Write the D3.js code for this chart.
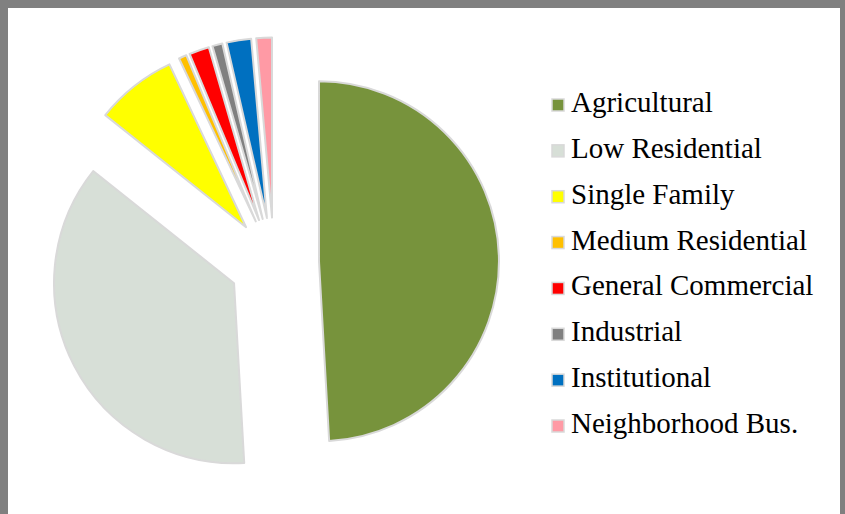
<!DOCTYPE html>
<html><head><meta charset="utf-8">
<script src="https://cdn.jsdelivr.net/npm/d3@7"></script>
<style>html,body{margin:0;padding:0;background:#808080;}svg{display:block;}</style>
</head><body>
<svg id="chart" width="845" height="514"></svg>
<script>
const categories = ["Agricultural","Low Residential","Single Family","Medium Residential","General Commercial","Industrial","Institutional","Neighborhood Bus."];
const values = [49.1, 36.6, 7.3, 0.7, 1.8, 0.9, 2.2, 1.4];
const colors = ["#77933C","#D7DFD7","#FFFF00","#FFC000","#FF0000","#808080","#0070C0","#FF9AA5"];

const svg = d3.select("#chart");
svg.append("rect").attr("x",0).attr("y",0).attr("width",845).attr("height",514).attr("fill","#808080");
svg.append("rect").attr("x",8).attr("y",8).attr("width",832).attr("height",506).attr("fill","#ffffff");

const cx = 274, cy = 262.5, r = 180, explode = 45;
const data = categories.map((c,i)=>({name:c, value:values[i], color:colors[i]}));
const pie = d3.pie().value(d=>d.value).sort(null).startAngle(0).endAngle(2*Math.PI);
const arc = d3.arc().innerRadius(0).outerRadius(r);
const g = svg.append("g").attr("transform",`translate(${cx},${cy})`);
g.selectAll("path").data(pie(data)).join("path")
  .attr("d", arc)
  .attr("transform", d=>{
    const a = (d.startAngle+d.endAngle)/2;
    return `translate(${explode*Math.sin(a)},${-explode*Math.cos(a)})`;
  })
  .attr("fill", d=>d.data.color)
  .attr("stroke","#d9d9d9")
  .attr("stroke-width",2)
  .attr("stroke-linejoin","round");

const y = d3.scalePoint().domain(categories).range([112, 433]);
const leg = svg.append("g");
const rows = leg.selectAll("g").data(data).join("g")
  .attr("transform", d=>`translate(0,${y(d.name)})`);
rows.append("rect").attr("x",552).attr("y",-13).attr("width",12).attr("height",12)
  .attr("fill",d=>d.color).attr("stroke","#d9d9d9").attr("stroke-width",1.5);
rows.append("text").attr("x",571).attr("y",0)
  .attr("font-family","'Liberation Serif', 'DejaVu Serif', serif")
  .attr("font-size",29).attr("fill","#000")
  .text(d=>d.name);
</script>
</body></html>
